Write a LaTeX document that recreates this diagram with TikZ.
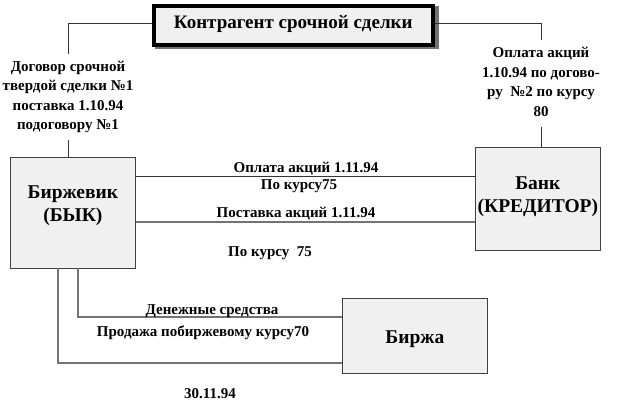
\documentclass[tikz,border=0pt]{standalone}
\usepackage{fontspec}
\setmainfont{Liberation Serif}
\begin{document}
\begin{tikzpicture}[x=1pt,y=-1pt,
  box/.style={draw=black!75, fill=black!6, line width=0.8pt},
  lbl/.style={font=\bfseries\fontsize{15}{17}\selectfont, inner sep=0pt, align=center},
  big/.style={font=\bfseries\fontsize{19.5}{23}\selectfont, inner sep=0pt, align=center},
  ln/.style={draw=black!80, line width=0.8pt},
  gln/.style={draw=black!55, line width=1.2pt}]
\useasboundingbox (0,0) rectangle (620,405);
% boxes
\fill[black!55] (155,6) rectangle (439,49);
\node[draw=black, fill=black!6, line width=3.5pt, minimum width=279pt, minimum height=39pt, anchor=north west, inner sep=0pt] (kontr) at (152,4) {};
\node[font=\bfseries\fontsize{19}{22}\selectfont, inner sep=0pt] (kt) at ([yshift=1pt]kontr.center) {Контрагент срочной сделки};
\node[box, minimum width=125pt, minimum height=111pt, anchor=north west] (bull) at (10,157) {};
\node[big] at ([yshift=7pt]bull.center) {Биржевик\\(БЫК)};
\node[box, minimum width=125pt, minimum height=103pt, anchor=north west] (bank) at (475,147) {};
\node[big] at ([yshift=2pt]bank.center) {Банк\\(КРЕДИТОР)};
\node[box, minimum width=145pt, minimum height=75pt, anchor=north west] (birzha) at (342,298) {};
\node[big] at ([yshift=-3pt]birzha.center) {Биржа};
% side labels
\node[lbl, font=\bfseries\fontsize{15}{19.5}\selectfont] (dog) at (68,97) {Договор срочной\\твердой сделки №1\\поставка 1.10.94\\подоговору №1};
\node[lbl, font=\bfseries\fontsize{15}{19.5}\selectfont] (opl) at (541,82) {Оплата акций\\1.10.94 по догово-\\ру \ №2 по курсу\\80};
% top connectors
\coordinate (tl) at (68,23);
\coordinate (tr) at (541,23);
\draw[ln] (kontr.west |- tl) -- (tl) -- (68,54);
\draw[ln] (68,140) -- (68,157);
\draw[ln] (kontr.east |- tr) -- (tr) -- (541,40);
\draw[ln] (541,127) -- (541,147);
% middle connectors
\draw[ln] (bull.east |- 0,176) -- (bank.west |- 0,176);
\draw[gln] (bull.east |- 0,222) -- (bank.west |- 0,222);
\node[lbl] at (306,169) {Оплата акций 1.11.94};
\node[lbl] at (299,186) {По курсу75};
\node[lbl] at (296,214) {Поставка акций 1.11.94};
\node[lbl] at (270,253) {По курсу \ 75};
% bottom connectors
\draw[gln] (78,268) -- (78,317) -- (birzha.west |- 0,317);
\draw[gln] (58,268) -- (58,363) -- (birzha.west |- 0,363);
\node[lbl] at (212,311) {Денежные средства};
\node[lbl] at (203,333) {Продажа побиржевому курсу70};
\node[lbl] at (210,394) {30.11.94};
\end{tikzpicture}
\end{document}
